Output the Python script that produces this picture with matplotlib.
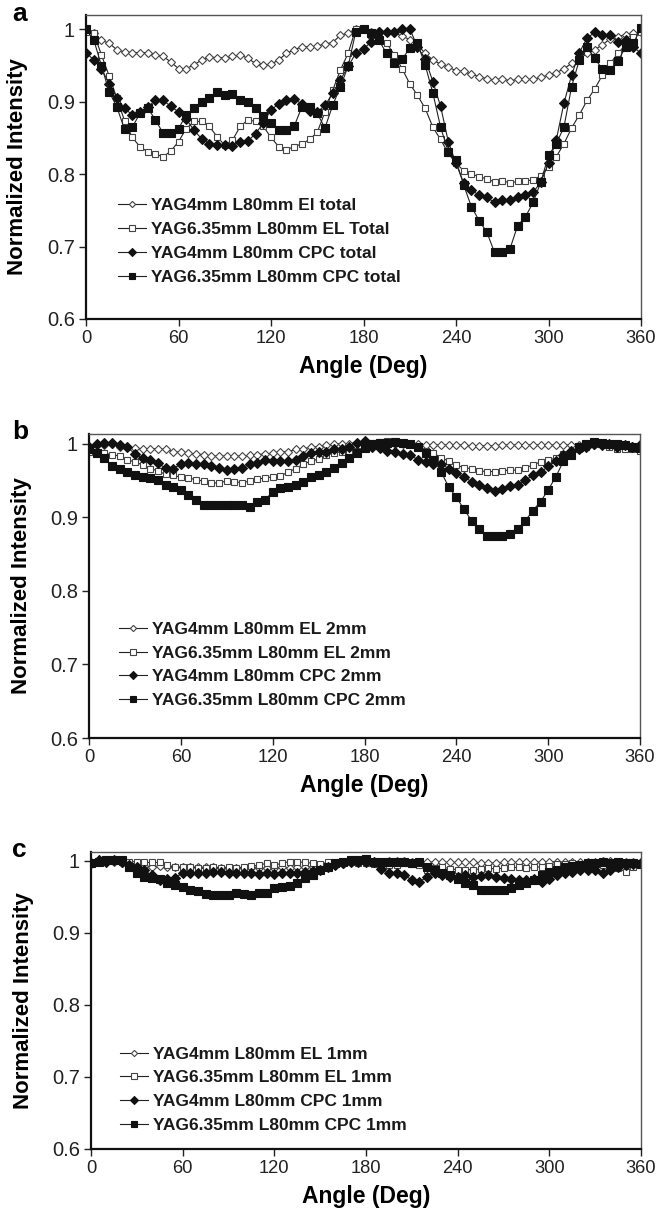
import matplotlib
matplotlib.use("Agg")
import matplotlib.pyplot as plt
import numpy as np

plt.rcParams["font.family"] = ["Liberation Sans", "DejaVu Sans"]

# angle grid of the measurement, every 5 degrees
angles = np.arange(0, 361, 5)

# ---- panel a: total ----
a_el4 = [1.000, 0.995, 0.985, 0.981, 0.972, 0.969, 0.968, 0.968, 0.968, 0.965, 0.963, 0.955, 0.946,
         0.946, 0.951, 0.958, 0.962, 0.961, 0.961, 0.963, 0.965, 0.960, 0.953, 0.951, 0.952, 0.958,
         0.967, 0.972, 0.976, 0.976, 0.977, 0.980, 0.982, 0.992, 0.995, 1.001, 1.001,
         0.997, 0.998, 0.996, 0.995, 0.991, 0.986, 0.979, 0.967, 0.958, 0.952, 0.948, 0.943, 0.942,
         0.938, 0.935, 0.932, 0.930, 0.932, 0.929, 0.931, 0.931, 0.931, 0.934, 0.937, 0.940, 0.946,
         0.953, 0.959, 0.967, 0.972, 0.979, 0.987, 0.990, 0.993, 0.995, 0.997]
a_el635 = [0.997, 0.995, 0.965, 0.936, 0.905, 0.874, 0.851, 0.838, 0.831, 0.828, 0.824, 0.832, 0.845,
           0.863, 0.873, 0.873, 0.866, 0.852, 0.840, 0.847, 0.866, 0.875, 0.873, 0.866, 0.851, 0.838,
           0.834, 0.838, 0.842, 0.848, 0.858, 0.886, 0.916, 0.944, 0.967, 1.001, 1.001,
           0.992, 0.988, 0.981, 0.965, 0.946, 0.925, 0.909, 0.891, 0.865, 0.848, 0.829, 0.815, 0.805,
           0.801, 0.796, 0.794, 0.789, 0.791, 0.788, 0.790, 0.791, 0.792, 0.798, 0.810, 0.824, 0.842,
           0.864, 0.882, 0.902, 0.918, 0.937, 0.953, 0.967, 0.979, 0.990, 0.997]
a_cpc4 = [0.968, 0.958, 0.946, 0.925, 0.906, 0.891, 0.882, 0.886, 0.893, 0.902, 0.902, 0.894, 0.886,
          0.876, 0.861, 0.849, 0.842, 0.841, 0.841, 0.839, 0.845, 0.846, 0.856, 0.871, 0.889, 0.897,
          0.902, 0.904, 0.897, 0.888, 0.886, 0.895, 0.912, 0.930, 0.949, 0.967, 0.973,
          0.983, 0.996, 0.996, 0.997, 1.000, 1.001, 0.976, 0.959, 0.928, 0.894, 0.845, 0.815, 0.788,
          0.778, 0.771, 0.768, 0.761, 0.765, 0.765, 0.768, 0.771, 0.775, 0.789, 0.815, 0.847, 0.898,
          0.937, 0.968, 0.988, 0.996, 0.992, 0.992, 0.983, 0.986, 0.976, 0.967]
a_cpc635 = [1.000, 0.986, 0.950, 0.914, 0.893, 0.862, 0.865, 0.884, 0.892, 0.875, 0.857, 0.857, 0.863,
            0.882, 0.891, 0.900, 0.906, 0.914, 0.909, 0.911, 0.903, 0.900, 0.892, 0.880, 0.871, 0.861,
            0.861, 0.866, 0.893, 0.893, 0.884, 0.864, 0.895, 0.921, 0.949, 0.997, 1.000,
            0.995, 0.985, 0.967, 0.954, 0.959, 0.974, 0.981, 0.951, 0.912, 0.865, 0.831, 0.819, 0.785,
            0.755, 0.736, 0.720, 0.692, 0.692, 0.697, 0.729, 0.741, 0.761, 0.789, 0.826, 0.842, 0.865,
            0.921, 0.958, 0.976, 0.960, 0.945, 0.944, 0.956, 0.976, 0.981, 1.002]

# ---- panel b: 2 mm ----
b_el4 = [0.996, 0.998, 0.998, 0.999, 0.996, 0.995, 0.994, 0.993, 0.993, 0.993, 0.992, 0.989, 0.988,
         0.987, 0.986, 0.985, 0.983, 0.983, 0.983, 0.983, 0.983, 0.984, 0.985, 0.986, 0.987, 0.989,
         0.989, 0.992, 0.993, 0.995, 0.996, 0.998, 0.999, 1.000, 1.000, 1.001, 1.002,
         1.000, 1.000, 1.000, 0.999, 0.999, 0.999, 0.999, 0.998, 0.998, 0.998, 0.998, 0.998, 0.998,
         0.997, 0.997, 0.997, 0.997, 0.998, 0.998, 0.998, 0.998, 0.998, 0.998, 0.998, 0.998, 0.998,
         0.998, 0.998, 0.998, 0.998, 0.998, 0.998, 0.997, 0.997, 0.997, 0.996]
b_el635 = [0.989, 0.989, 0.987, 0.985, 0.983, 0.978, 0.975, 0.971, 0.966, 0.963, 0.958, 0.957, 0.954,
           0.953, 0.951, 0.949, 0.946, 0.947, 0.949, 0.948, 0.947, 0.949, 0.952, 0.953, 0.955, 0.956,
           0.961, 0.966, 0.972, 0.976, 0.979, 0.985, 0.987, 0.989, 0.990, 0.990, 0.994,
           1.001, 1.002, 1.003, 1.003, 1.001, 0.999, 0.996, 0.990, 0.987, 0.981, 0.976, 0.971, 0.967,
           0.966, 0.963, 0.962, 0.962, 0.963, 0.964, 0.964, 0.967, 0.971, 0.975, 0.978, 0.980, 0.986,
           0.989, 0.993, 0.996, 0.999, 1.000, 0.996, 0.993, 0.993, 0.992, 0.990]
b_cpc4 = [0.996, 0.999, 1.001, 1.001, 0.998, 0.995, 0.986, 0.980, 0.977, 0.973, 0.967, 0.966, 0.972,
          0.973, 0.972, 0.972, 0.969, 0.967, 0.964, 0.966, 0.967, 0.972, 0.973, 0.977, 0.976, 0.976,
          0.976, 0.978, 0.983, 0.987, 0.989, 0.989, 0.992, 0.993, 0.996, 1.001, 1.004,
          0.995, 0.994, 0.990, 0.989, 0.986, 0.984, 0.978, 0.975, 0.972, 0.972, 0.966, 0.960, 0.955,
          0.948, 0.944, 0.940, 0.935, 0.938, 0.943, 0.944, 0.950, 0.957, 0.961, 0.969, 0.976, 0.984,
          0.990, 0.993, 0.996, 0.999, 0.998, 1.000, 0.996, 0.998, 0.996, 0.998]
b_cpc635 = [0.993, 0.987, 0.980, 0.970, 0.966, 0.962, 0.957, 0.955, 0.953, 0.950, 0.944, 0.941, 0.937,
            0.930, 0.924, 0.917, 0.917, 0.916, 0.916, 0.917, 0.917, 0.914, 0.920, 0.924, 0.934, 0.939,
            0.941, 0.944, 0.948, 0.954, 0.957, 0.962, 0.967, 0.973, 0.980, 0.987, 0.994,
            0.999, 1.001, 1.001, 1.002, 1.001, 0.999, 0.996, 0.987, 0.978, 0.962, 0.941, 0.927, 0.911,
            0.895, 0.884, 0.875, 0.874, 0.874, 0.877, 0.884, 0.895, 0.909, 0.921, 0.937, 0.955, 0.976,
            0.985, 0.996, 0.999, 1.002, 1.001, 0.999, 1.000, 0.998, 0.996, 0.994]

# ---- panel c: 1 mm ----
c_el4 = [0.997, 0.998, 0.998, 0.998, 0.997, 0.995, 0.994, 0.993, 0.992, 0.993, 0.992, 0.992, 0.991,
         0.992, 0.991, 0.991, 0.991, 0.990, 0.990, 0.990, 0.990, 0.991, 0.990, 0.990, 0.990, 0.991,
         0.990, 0.991, 0.991, 0.992, 0.993, 0.994, 0.995, 0.996, 0.998, 0.999, 0.999,
         0.999, 0.999, 1.000, 1.000, 1.000, 0.999, 0.999, 0.999, 0.998, 0.998, 0.998, 0.998, 0.998,
         0.998, 0.997, 0.997, 0.997, 0.998, 0.998, 0.998, 0.998, 0.998, 0.999, 0.999, 0.999, 0.998,
         0.999, 0.999, 0.999, 0.999, 1.000, 1.000, 0.999, 0.999, 0.999, 0.998]
c_el635 = [0.997, 0.999, 1.002, 1.001, 0.998, 0.999, 0.999, 0.998, 0.998, 0.998, 0.994, 0.992, 0.991,
           0.992, 0.990, 0.990, 0.991, 0.990, 0.992, 0.990, 0.992, 0.993, 0.994, 0.997, 0.994, 0.997,
           0.999, 0.999, 0.998, 0.997, 0.996, 0.998, 0.997, 0.999, 0.998, 0.997, 0.997,
           0.996, 0.994, 0.994, 0.995, 0.997, 0.996, 0.994, 0.987, 0.990, 0.992, 0.989, 0.988, 0.988,
           0.988, 0.989, 0.990, 0.989, 0.990, 0.991, 0.991, 0.990, 0.991, 0.992, 0.993, 0.996, 0.996,
           0.997, 0.994, 0.992, 0.994, 0.995, 0.993, 0.990, 0.985, 0.992, 0.994]
c_cpc4 = [0.997, 1.001, 0.999, 1.002, 0.998, 0.994, 0.992, 0.987, 0.980, 0.974, 0.975, 0.977, 0.983,
          0.983, 0.984, 0.984, 0.985, 0.985, 0.984, 0.984, 0.983, 0.983, 0.982, 0.983, 0.982, 0.984,
          0.983, 0.983, 0.985, 0.986, 0.988, 0.992, 0.994, 0.997, 0.999, 0.999, 0.998,
          0.998, 0.989, 0.984, 0.983, 0.980, 0.974, 0.971, 0.978, 0.983, 0.981, 0.978, 0.978, 0.980,
          0.978, 0.979, 0.980, 0.978, 0.976, 0.975, 0.974, 0.973, 0.975, 0.971, 0.975, 0.981, 0.983,
          0.985, 0.988, 0.987, 0.988, 0.983, 0.988, 0.992, 0.994, 0.996, 0.997]
c_cpc635 = [0.997, 0.999, 1.001, 1.002, 1.001, 0.992, 0.983, 0.978, 0.977, 0.975, 0.969, 0.967, 0.964,
            0.960, 0.959, 0.954, 0.953, 0.953, 0.953, 0.955, 0.954, 0.953, 0.956, 0.956, 0.962, 0.964,
            0.965, 0.969, 0.976, 0.981, 0.988, 0.992, 0.997, 0.999, 1.001, 1.002, 1.003,
            0.999, 0.999, 0.999, 0.998, 0.999, 0.997, 0.999, 0.992, 0.988, 0.983, 0.981, 0.975, 0.969,
            0.966, 0.960, 0.960, 0.960, 0.960, 0.962, 0.966, 0.969, 0.974, 0.981, 0.985, 0.988, 0.991,
            0.993, 0.994, 0.997, 0.997, 0.998, 0.997, 0.998, 0.997, 0.997, 0.996]

labels_a = ["YAG4mm L80mm El total", "YAG6.35mm L80mm EL Total",
            "YAG4mm L80mm CPC total", "YAG6.35mm L80mm CPC total"]
labels_b = ["YAG4mm L80mm EL 2mm", "YAG6.35mm L80mm EL 2mm",
            "YAG4mm L80mm CPC 2mm", "YAG6.35mm L80mm CPC 2mm"]
labels_c = ["YAG4mm L80mm EL 1mm", "YAG6.35mm L80mm EL 1mm",
            "YAG4mm L80mm CPC 1mm", "YAG6.35mm L80mm CPC 1mm"]

x_ticks = [0, 60, 120, 180, 240, 300, 360]
y_ticks = [0.6, 0.7, 0.8, 0.9, 1.0]
y_ticklabels = ["0.6", "0.7", "0.8", "0.9", "1"]

# marker style per series: (marker, size, face, edge)
STYLES = [("D", 4.2, "white", "#444444"),
          ("s", 5.0, "white", "#444444"),
          ("D", 5.0, "#111111", "#111111"),
          ("s", 5.5, "#111111", "#111111")]

W, H = 656, 1225
fig = plt.figure(figsize=(W / 100, H / 100), dpi=100)


def px_axes(left, right, top, bottom):
    return fig.add_axes([left / W, 1 - bottom / H, (right - left) / W, (bottom - top) / H])


def panel(ax, series, labels, ytop, legend_anchor, letter, letter_y):
    for vals, lab, (mk, ms, fc, ec) in zip(series, labels, STYLES):
        ax.plot(angles, vals, color="#222222", linewidth=0.8, marker=mk, markersize=ms,
                markerfacecolor=fc, markeredgecolor=ec, markeredgewidth=0.8, label=lab)
    ax.set_xlim(0, 360)
    ax.set_ylim(0.6, ytop)
    ax.set_xticks(x_ticks)
    ax.set_yticks(y_ticks)
    ax.set_yticklabels(y_ticklabels)
    ax.tick_params(direction="out", length=5, width=1, pad=3, colors="#222222")
    ax.tick_params(axis="x", labelsize=13.2)
    ax.tick_params(axis="y", labelsize=14.5)
    for s in ("left", "bottom"):
        ax.spines[s].set_linewidth(1.6)
        ax.spines[s].set_color("#111111")
    for s in ("top", "right"):
        ax.spines[s].set_linewidth(1.0)
        ax.spines[s].set_color("#555555")
    ax.set_xlabel("Angle (Deg)", fontsize=16.5, fontweight="bold", labelpad=6)
    ax.set_ylabel("Normalized Intensity", fontsize=16, fontweight="bold")
    ax.yaxis.set_label_coords(-0.104, 0.5)
    leg = ax.legend(loc="lower left", bbox_to_anchor=legend_anchor, frameon=False,
                    prop={"size": 12.5, "weight": "bold"}, handlelength=1.6,
                    handletextpad=0.3, labelspacing=0.5, markerscale=0.75,
                    borderaxespad=0)
    for t in leg.get_texts():
        t.set_color("#1a1a1a")
    fig.text(12 / W, 1 - letter_y / H, letter, fontsize=19, fontweight="bold",
             va="top", ha="left")


ax_a = px_axes(86, 641, 15, 319)
panel(ax_a, [a_el4, a_el635, a_cpc4, a_cpc635], labels_a, 1.02, (0.045, 0.09), "a", 2)

ax_b = px_axes(89, 640, 434, 738)
panel(ax_b, [b_el4, b_el635, b_cpc4, b_cpc635], labels_b, 1.013, (0.042, 0.075), "b", 420)

ax_c = px_axes(91, 641, 852, 1149)
panel(ax_c, [c_el4, c_el635, c_cpc4, c_cpc635], labels_c, 1.0125, (0.04, 0.03), "c", 838)

fig.savefig("out.png", dpi=100, facecolor="white")
